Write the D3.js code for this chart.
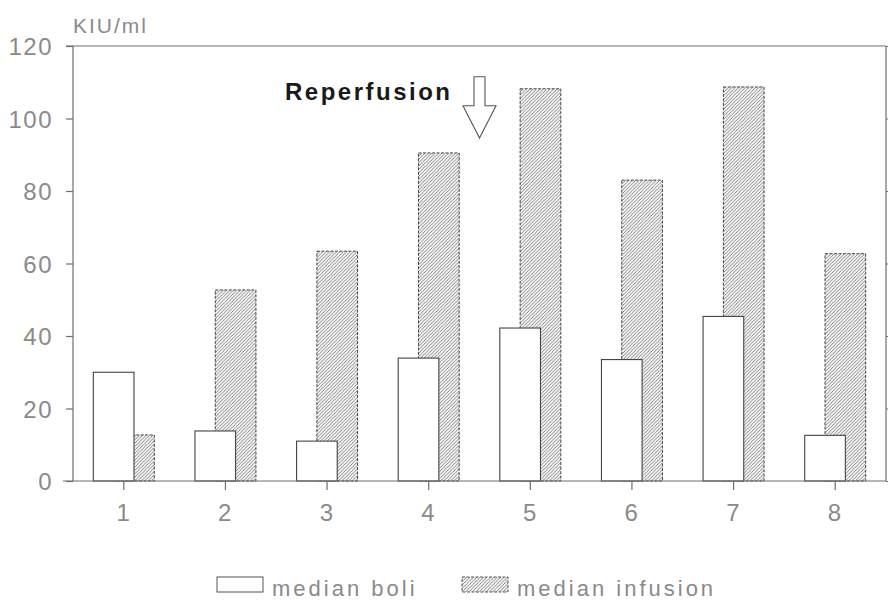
<!DOCTYPE html>
<html>
<head>
<meta charset="utf-8">
<script src="https://cdn.jsdelivr.net/npm/d3@7"></script>
<style>
  html, body { margin: 0; padding: 0; background: #fff; }
  svg { display: block; }
</style>
</head>
<body>
<svg id="chart" width="888" height="600"></svg>
<script>
// ---- data ----
const categories = ["1", "2", "3", "4", "5", "6", "7", "8"];
const medianBoli = [30, 13.8, 11, 33.9, 42.2, 33.5, 45.4, 12.6];
const medianInfusion = [12.7, 52.7, 63.4, 90.5, 108.2, 83, 108.7, 62.7];
const yTicks = [0, 20, 40, 60, 80, 100, 120];
const seriesNames = ["median boli", "median infusion"];
const unitLabel = "KIU/ml";
const annotationText = "Reperfusion";
const annotationBetween = ["4", "5"];

(function () {
// ---- layout ----
const mLeft = 73, mRight = 886, mTop = 46, mBottom = 481;
const svg = d3.select("#chart");

const x = d3.scaleBand().domain(categories).range([mLeft, mRight]).padding(0);
const y = d3.scaleLinear().domain([0, 120]).range([mBottom, mTop]);
const bw = x.bandwidth();

const axisColor = "#6e6e6e";
const labelColor = "#8a8a8a";
const font = "'Liberation Sans', Arial, sans-serif";

// hatch pattern
const defs = svg.append("defs");
const ps = 3.4;
const pat = defs.append("pattern")
  .attr("id", "hatch").attr("patternUnits", "userSpaceOnUse")
  .attr("width", ps).attr("height", ps);
pat.append("rect").attr("width", ps).attr("height", ps).attr("fill", "#f6f6f6");
pat.append("path")
  .attr("d", `M${-ps / 4},${ps / 4} L${ps / 4},${-ps / 4} M0,${ps} L${ps},0 M${ps * 0.75},${ps * 1.25} L${ps * 1.25},${ps * 0.75}`)
  .attr("stroke", "#666").attr("stroke-width", 0.8);

// ---- bars ----
const g = svg.append("g");
g.selectAll("rect.inf").data(categories).join("rect")
  .attr("class", "inf")
  .attr("x", (d) => x(d) + bw / 2 - 0.1 * bw)
  .attr("width", 0.4 * bw)
  .attr("y", (d, i) => y(medianInfusion[i]))
  .attr("height", (d, i) => y(0) - y(medianInfusion[i]))
  .attr("fill", "url(#hatch)")
  .attr("stroke", "#444").attr("stroke-width", 1)
  .attr("stroke-dasharray", "3,1.5");
g.selectAll("rect.boli").data(categories).join("rect")
  .attr("class", "boli")
  .attr("x", (d) => x(d) + bw / 2 - 0.3 * bw)
  .attr("width", 0.4 * bw)
  .attr("y", (d, i) => y(medianBoli[i]))
  .attr("height", (d, i) => y(0) - y(medianBoli[i]))
  .attr("fill", "#fff")
  .attr("stroke", "#444").attr("stroke-width", 1.1);

// ---- axes ----
const yAxis = svg.append("g").attr("transform", `translate(${mLeft},0)`)
  .call(d3.axisLeft(y).tickValues(yTicks).tickSize(7).tickPadding(13));
yAxis.select(".domain").attr("d", `M0,${mBottom}V${mTop}`);
const xAxis = svg.append("g").attr("transform", `translate(0,${mBottom})`)
  .call(d3.axisBottom(x).tickSize(9).tickPadding(13));
xAxis.select(".domain").attr("d", `M${mLeft - 10},0H${mRight}`);
const rAxis = svg.append("g").attr("transform", `translate(${mRight},0)`)
  .call(d3.axisLeft(y).tickValues(yTicks).tickSize(-5).tickFormat(""));
rAxis.select(".domain").attr("d", `M0,${mBottom}V${mTop}`);
svg.append("line").attr("x1", mLeft - 7).attr("x2", mRight)
  .attr("y1", mTop).attr("y2", mTop)
  .attr("stroke", axisColor).attr("stroke-width", 1.2);

[yAxis, xAxis, rAxis].forEach((a) => {
  a.selectAll(".domain, line").attr("stroke", axisColor).attr("stroke-width", 1.2);
  a.selectAll("text").attr("fill", labelColor)
    .style("font-family", font).style("font-size", "24px")
    .style("letter-spacing", "1.5px");
});
yAxis.selectAll("text").attr("dy", "0.36em");
xAxis.selectAll("text").attr("dy", "0.75em");

svg.append("text").attr("x", mLeft).attr("y", 33)
  .attr("fill", labelColor)
  .style("font-family", font).style("font-size", "21px").style("letter-spacing", "2px")
  .text(unitLabel);

// ---- annotation ----
const ax = x(annotationBetween[1]);
const shaftHalf = 5.5, headHalf = 16.5;
const yTop = y(111.5), yHead = y(103.5), yTip = y(94.6);
svg.append("path")
  .attr("d", `M${ax - shaftHalf},${yTop}H${ax + shaftHalf}V${yHead}H${ax + headHalf}L${ax},${yTip}L${ax - headHalf},${yHead}H${ax - shaftHalf}Z`)
  .attr("fill", "#fff").attr("stroke", "#555").attr("stroke-width", 1.1)
  .attr("stroke-linejoin", "miter");
svg.append("text").attr("x", ax - 27).attr("y", y(105))
  .attr("text-anchor", "end").attr("fill", "#1a1a1a")
  .style("font-family", font).style("font-size", "24px").style("font-weight", "bold")
  .style("letter-spacing", "2.5px")
  .text(annotationText);

// ---- legend ----
const legend = svg.append("g");
const legendItems = [
  { name: seriesNames[0], fill: "#fff", dash: null, sx: 217 },
  { name: seriesNames[1], fill: "url(#hatch)", dash: "3,1.5", sx: 462 }
];
legendItems.forEach((it) => {
  legend.append("rect").attr("x", it.sx).attr("y", 577).attr("width", 46).attr("height", 15)
    .attr("fill", it.fill).attr("stroke", "#555").attr("stroke-width", 1)
    .attr("stroke-dasharray", it.dash);
  legend.append("text").attr("x", it.sx + 55).attr("y", 596)
    .attr("fill", labelColor)
    .style("font-family", font).style("font-size", "22px").style("letter-spacing", "3px")
    .text(it.name);
});
})();
</script>
</body>
</html>
